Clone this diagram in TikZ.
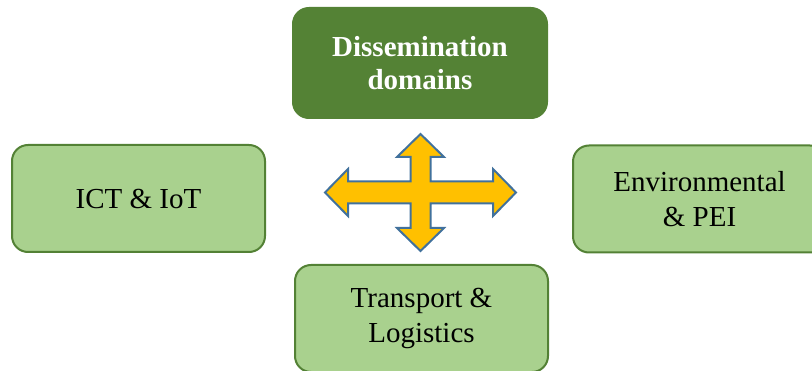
\documentclass[tikz,border=0pt]{standalone}
\usepackage{fontspec}
\setmainfont{Liberation Serif}
\definecolor{darkg}{HTML}{548235}
\definecolor{lightg}{HTML}{A9D18E}
\definecolor{edgeg}{HTML}{538135}
\definecolor{crossfill}{HTML}{FFC000}
\definecolor{crossedge}{HTML}{41719C}
\tikzset{
  domainbox/.style={rectangle, rounded corners=16pt, draw=edgeg, line width=2pt,
    fill=lightg, minimum width=253pt, minimum height=107pt, align=center,
    font=\fontsize{29}{35}\selectfont, text=black, inner sep=0pt},
  headbox/.style={domainbox, fill=darkg, draw=darkg, text=white,
    font=\fontsize{29}{33}\selectfont\bfseries, minimum width=254pt, minimum height=110pt},
  crossarrow/.style={fill=crossfill, draw=crossedge, line width=2pt, line join=miter}
}
\begin{document}
\begin{tikzpicture}[x=1pt,y=1pt]
\useasboundingbox (0,0) rectangle (812,370);
\clip (0,0) rectangle (812,370);
\node[headbox] (head) at (420,307) {Dissemination\\domains};
\node[domainbox] (ict) at (138.5,171.5) {ICT \& IoT};
\node[domainbox] (env) at (699.5,171) {Environmental\\\& PEI};
\node[domainbox] (trans) at (421.5,51.5) {Transport \&\\Logistics};
\coordinate (c) at (420.5,177.5);
\draw[crossarrow, shift={(c)}]
  (95.5,0) -- (72.5,23.5) -- (72.5,11) -- (10,11) -- (10,35.5) -- (23.5,35.5)
  -- (0,58.5) -- (-23.5,35.5) -- (-10,35.5) -- (-10,11) -- (-72.5,11)
  -- (-72.5,23.5) -- (-95.5,0) -- (-72.5,-23.5) -- (-72.5,-11) -- (-10,-11)
  -- (-10,-35.5) -- (-23.5,-35.5) -- (0,-58.5) -- (23.5,-35.5) -- (10,-35.5)
  -- (10,-11) -- (72.5,-11) -- (72.5,-23.5) -- cycle;
\end{tikzpicture}
\end{document}
